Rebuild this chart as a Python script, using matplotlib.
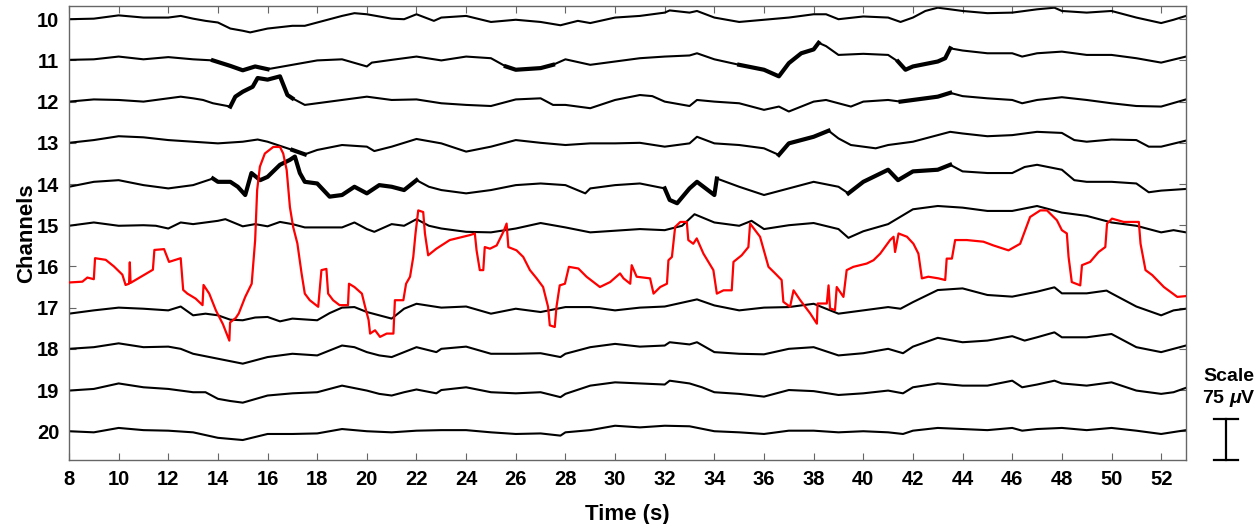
import numpy as np
import matplotlib
matplotlib.use("Agg")
import matplotlib.pyplot as plt

plt.rcParams['font.family'] = ['Liberation Sans', 'DejaVu Sans']
plt.rcParams['font.weight'] = 'bold'
plt.rcParams['mathtext.fontset'] = 'custom'
plt.rcParams['mathtext.it'] = 'Liberation Sans:italic:bold'

#Black EEG traces: (time s, deflection uV), positive = up on the plot
ch10 = [(8,0),(9,1),(10,7),(11,3),(12,3),(12.5,6),(13,1),(13.5,-3),(14,-6),(14.5,-17),(15,-21),(15.3,-24),
        (16,-17),(17,-12),(17.5,-12),(18,-6),(19,6),(19.5,11),(20,9),(21,1),(21.5,0),(22,9),(22.7,-3),(23,3),
        (24,6),(25,-5),(26,-1),(27,-5),(27.8,-11),(28.5,-3),(29,-7),(30,3),(31,6),(32,12),(32.2,16),(33,12),
        (33.3,15),(34,3),(35,-5),(36,-1),(37,3),(38,9),(38.5,9),(39,0),(40,5),(41,3),(41.5,-5),(42,3),(42.5,15),
        (43,21),(44,15),(45,11),(46,12),(47,18),(47.7,21),(48,15),(49,12),(50,15),(51,3),(52,-7),(52.5,-1),(53,6)]
ch11 = [(8,1),(9,2),(10,7),(11,2),(12,6),(13,2),(13.8,0),(14.5,-10),(15,-18),(15.5,-11),(16,-16),(17,-8),
        (18,0),(19,2),(20,-11),(20.2,-4),(21,1),(22,7),(23,0),(24,7),(25,4),(25.6,-11),(26,-17),(27,-14),
        (27.5,-8),(28,2),(29,-8),(30,-2),(31,4),(32,7),(33,9),(33.3,13),(34,2),(35,-8),(36,-17),(36.6,-29),
        (37,-5),(37.5,13),(38,20),(38.2,32),(38.5,26),(39,10),(40,12),(41,10),(41.4,-2),(41.7,-17),(42,-11),
        (43,-2),(43.3,4),(43.5,22),(44,18),(45,13),(46,13),(46.4,7),(47,13),(48,16),(49,10),(50,10),(51,4),
        (52,-4),(53,7)]
ch12 = [(8,0),(9,4),(10,3),(11,0),(12,6),(12.5,9),(13,6),(13.4,3),(13.8,-3),(14.5,-9),(14.7,9),(15,18),
        (15.4,27),(15.6,43),(16,40),(16.5,46),(16.8,12),(17,6),(17.5,-6),(18,-3),(19,3),(20,9),(21,3),(22,4),
        (23,-3),(24,-6),(25,-8),(26,4),(27,6),(27.5,-6),(28,-6),(29,-12),(30,3),(31,12),(31.5,10),(32,0),
        (33,-8),(33.3,3),(34,0),(35,-3),(36,-15),(36.6,-9),(37,-18),(38,0),(38.5,3),(39,-3),(39.5,-9),(40,0),
        (41,3),(41.5,0),(42,3),(43,9),(43.5,16),(44,10),(45,6),(46,3),(46.4,-3),(47,3),(48,8),(49,3),(50,-3),
        (51,-8),(52,-9),(53,4)]
ch13 = [(8,0),(9,5),(10,12),(11,10),(12,5),(13,2),(14,-1),(15,2),(15.6,6),(16,2),(17,-13),(17.5,-21),
        (18,-13),(19,-4),(20,-7),(20.3,-15),(21,-7),(22,7),(23,-1),(24,-16),(25,-7),(26,5),(27,0),(28,-4),
        (29,-1),(30,-1),(31,0),(32,-7),(33,-1),(33.3,11),(34,-1),(35,-4),(36,-10),(36.6,-22),(37,-1),(38,11),
        (38.6,22),(39,8),(39.5,-4),(40,-7),(40.5,-10),(41,-4),(42,2),(43,14),(43.5,20),(44,17),(45,12),(46,14),
        (46.5,17),(47,20),(48,18),(48.5,5),(49,2),(50,6),(51,5),(51.5,-7),(52,-7),(53,4)]
ch14 = [(8,-5),(9,4),(10,7),(11,-2),(12,-8),(13,-2),(13.8,10),(14,4),(14.5,4),(14.8,-5),(15.1,-20),
        (15.35,20),(15.7,7),(16,13),(16.5,35),(16.9,44),(17.1,50),(17.3,20),(17.5,4),(18,1),(18.5,-23),
        (19,-20),(19.5,-5),(20,-17),(20.5,-2),(21,-5),(21.5,-11),(22,7),(22.5,-5),(23,-11),(24,-17),(25,-11),
        (26,-2),(27,1),(28,-2),(28.8,-17),(29,-8),(30,-2),(31,1),(32,-8),(32.2,-29),(32.5,-35),(33,-8),
        (33.3,4),(34,-20),(34.1,10),(35,-5),(36,-20),(37,-8),(38,4),(39,-5),(39.4,-17),(40,4),(41,26),
        (41.4,7),(42,23),(43,26),(43.5,35),(44,23),(45,20),(46,20),(46.5,31),(47,35),(48,26),(48.5,7),(49,4),
        (50,4),(51,1),(51.5,-15),(52,-12),(53,-9)]
ch15 = [(8,-1),(9,5),(10,-1),(11,0),(11.5,-1),(12,-6),(12.5,5),(13,2),(14,8),(14.3,11),(15,-2),(15.5,2),
        (16,-2),(16.5,6),(17,2),(17.5,-4),(18,-4),(19,-4),(19.5,5),(20,-7),(20.3,-12),(21,2),(21.5,-1),(22,11),
        (22.5,-1),(23,-6),(24,-12),(25,-13),(26,-6),(27,4),(28,-4),(29,-13),(30,-10),(31,-7),(32,-9),(32.7,-1),
        (33.2,20),(34,5),(35,-1),(35.5,8),(36,-7),(37,0),(38,4),(39,-7),(39.4,-23),(40,-11),(41,2),(42,29),
        (43,35),(44,32),(45,26),(46,26),(47,35),(48,23),(49,17),(50,5),(51,-1),(52,-13),(52.5,-9),(53,-13)]
ch17 = [(8,-11),(9,-5),(10,0),(11,-2),(12,-5),(12.5,2),(13,-14),(13.5,-11),(14,-14),(14.5,-22),(15,-23),
        (15.5,-18),(16,-17),(16.5,-25),(17,-20),(18,-23),(18.5,-10),(19,0),(19.5,1),(20,-8),(20.5,-14),
        (21,-20),(21.5,-2),(22,7),(23,0),(24,2),(25,-11),(26,-2),(27,-8),(28,1),(29,1),(30,-5),(31,0),(32,2),
        (33.3,15),(34,4),(35,-5),(36,0),(37,1),(38,7),(39,-11),(40,-5),(41,1),(41.5,-2),(42,10),(43,32),
        (44,35),(45,23),(46,20),(47,29),(47.7,37),(48,26),(49,26),(49.8,31),(50,26),(51,2),(52,-14),
        (52.5,-5),(53,-2)]
ch18 = [(8,0),(9,3),(10,10),(11,3),(12,4),(12.5,0),(13,-9),(14,-18),(15,-27),(16,-15),(17,-9),(18,-12),
        (19,6),(19.5,3),(20,-6),(20.5,-12),(21,-15),(21.5,-6),(22,3),(22.8,-6),(23,0),(24,4),(25,-9),(26,-9),
        (27,-8),(27.8,-15),(28,-9),(29,3),(30,9),(31,4),(32,6),(32.2,12),(33,8),(33.3,12),(34,-6),(35,-9),
        (36,-10),(37,0),(38,3),(39,-12),(40,-8),(41,0),(41.6,-8),(42,4),(43,20),(44,12),(45,15),(46,23),
        (46.5,15),(47,21),(47.7,30),(48,21),(49,21),(50,27),(51,3),(52,-6),(52.5,0),(53,6)]
ch19 = [(8,-1),(9,2),(10,12),(11,5),(12,2),(13,-4),(13.5,-4),(14,-16),(14.5,-20),(15,-23),(16,-10),(17,-6),
        (18,-4),(19,8),(20,-1),(20.5,-7),(21,-10),(21.5,-4),(22,1),(22.8,-6),(23,0),(24,5),(25,-4),(26,-6),
        (27,-4),(27.8,-13),(28,-7),(29,8),(30,14),(31,12),(32,10),(32.2,17),(33,12),(33.5,5),(34,-4),(35,-7),
        (36,-12),(37,0),(38,-2),(39,-9),(40,-6),(41,-1),(41.6,-6),(42,5),(43,12),(44,8),(45,8),(46,17),
        (46.4,5),(47,10),(47.7,17),(48,12),(49,8),(50,14),(51,-1),(52,-7),(52.5,-4),(53,4)]
ch20 = [(8,0),(9,-2),(10,6),(11,2),(12,1),(13,-2),(14,-12),(15,-16),(16,-5),(17,-5),(18,-4),(19,4),(20,0),
        (21,-2),(22,1),(23,2),(24,2),(25,-2),(26,-5),(27,-4),(27.8,-8),(28,-2),(29,2),(30,10),(31,7),(32,10),
        (33,9),(34,0),(35,-2),(36,-5),(37,1),(38,1),(39,-2),(40,0),(41,-2),(41.6,-5),(42,1),(43,6),(44,4),
        (45,2),(46,6),(46.4,1),(47,4),(48,6),(49,2),(50,6),(51,1),(52,-5),(53,2)]

channels = [10, 11, 12, 13, 14, 15, 17, 18, 19, 20]
traces = [ch10, ch11, ch12, ch13, ch14, ch15, ch17, ch18, ch19, ch20]

#Stretches with high-frequency artefact (drawn thicker)
artefacts = {11: [(13.8, 16.5), (25.5, 27.5), (34.8, 38.2), (41.4, 43.5)],
             12: [(14.5, 17.0), (41.4, 43.5)],
             13: [(16.9, 17.6), (36.6, 38.6)],
             14: [(13.8, 22.0), (32.0, 34.1), (39.4, 43.5)]}

#Red overlay trace, channel-axis units
red_t = [8.0,8.54,8.74,9.0,9.05,9.48,9.81,10.15,10.28,10.42,10.45,10.48,10.82,11.38,11.44,11.83,12.03,12.5,
         12.6,12.77,13.1,13.38,13.42,13.65,13.92,14.2,14.46,14.49,14.72,14.84,15.1,15.36,15.5,15.58,15.69,
         15.89,16.23,16.5,16.63,16.77,16.9,17.03,17.2,17.37,17.5,17.7,18.04,18.17,18.37,18.44,18.64,18.9,
         19.24,19.28,19.5,19.8,19.93,20.07,20.13,20.33,20.53,20.8,21.07,21.13,21.47,21.58,21.74,21.87,21.96,
         22.07,22.27,22.34,22.47,22.8,23.34,23.88,24.15,24.35,24.42,24.55,24.69,24.75,24.96,25.23,25.5,
         25.63,25.7,26.03,26.3,26.57,26.84,27.1,27.3,27.37,27.57,27.64,27.77,27.98,28.14,28.52,28.85,29.39,
         29.8,30.2,30.34,30.61,30.67,30.87,31.41,31.55,31.82,32.09,32.15,32.29,32.42,32.63,32.89,32.95,
         33.15,33.29,33.56,33.96,34.1,34.37,34.7,34.77,35.1,35.37,35.44,35.84,36.18,36.45,36.71,36.78,
         37.05,37.19,37.46,37.86,38.13,38.16,38.53,38.6,38.66,38.86,38.93,39.2,39.33,39.6,40.14,40.41,
         40.68,41.08,41.22,41.28,41.42,41.76,42.02,42.22,42.36,42.62,43.03,43.3,43.36,43.57,43.7,44.17,
         44.84,45.24,45.85,46.32,46.72,47.13,47.4,47.8,48.0,48.2,48.27,48.4,48.74,48.81,49.14,49.48,49.75,
         49.82,50.02,50.49,51.1,51.17,51.37,51.64,52.11,52.65,53.0]
red_y = [16.39,16.37,16.27,16.31,15.8,15.84,16.0,16.2,16.45,16.42,15.9,16.4,16.28,16.08,15.6,15.58,15.89,15.8,
         16.57,16.66,16.78,16.94,16.45,16.66,17.07,17.4,17.8,17.36,17.25,17.14,16.74,16.42,15.36,14.15,13.58,
         13.26,13.1,13.1,13.26,13.66,14.56,15.04,15.44,16.17,16.66,16.82,16.98,16.09,16.06,16.66,16.82,16.94,
         16.94,16.42,16.5,16.66,16.98,17.3,17.63,17.55,17.71,17.63,17.63,16.82,16.82,16.42,16.25,15.77,15.2,
         14.64,14.68,15.2,15.73,15.57,15.36,15.28,15.24,15.2,15.61,16.09,16.09,15.53,15.57,15.49,15.16,
         14.96,15.53,15.61,15.77,16.09,16.29,16.5,16.98,17.43,17.47,16.98,16.46,16.42,16.01,16.05,16.25,16.5,
         16.38,16.17,16.29,16.42,15.97,16.25,16.29,16.66,16.5,16.42,15.85,15.77,15.04,14.92,14.92,15.36,
         15.45,15.32,15.69,16.09,16.66,16.58,16.58,15.89,15.73,15.53,14.96,15.28,16.01,16.17,16.33,16.86,
         16.98,16.58,16.82,17.14,17.39,16.9,16.9,16.46,17.02,17.06,16.5,16.74,16.09,16.01,15.93,15.85,
         15.69,15.36,15.28,15.65,15.2,15.28,15.45,15.69,16.29,16.25,16.29,16.33,15.81,15.81,15.36,15.36,
         15.4,15.49,15.61,15.45,14.8,14.64,14.64,14.88,15.12,15.2,15.77,16.38,16.46,15.97,15.89,15.65,15.53,
         14.96,14.84,14.92,14.92,15.45,16.09,16.21,16.5,16.74,16.72]

uv_per_unit = 75.0

fig = plt.figure(figsize=(12.59, 5.24), dpi=100)
ax = fig.add_axes([0.0548, 0.122, 0.8872, 0.8665])

for ch, tr in zip(channels, traces):
    t = np.array([p[0] for p in tr])
    y = ch - np.array([p[1] for p in tr]) / uv_per_unit
    ax.plot(t, y, color='black', lw=1.5, zorder=2)
    for a, b in artefacts.get(ch, []):
        m = (t >= a) & (t <= b)
        ax.plot(t[m], y[m], color='black', lw=3.0, zorder=2)

ax.plot(red_t, red_y, color='red', lw=1.6, zorder=3)

ax.set_xlim(8, 53)
ax.set_ylim(20.70, 9.68)
ax.set_xticks(np.arange(8, 53, 2))
ax.set_yticks(np.arange(10, 21, 1))
ax.tick_params(direction='in', top=True, right=True, labelsize=14.5, length=5, color='#666666', pad=7)
for s in ax.spines.values():
    s.set_color('#666666')
    s.set_linewidth(1.0)
ax.set_xlabel('Time (s)', fontsize=16, fontweight='bold', labelpad=11)
ax.set_ylabel('Channels', fontsize=16, fontweight='bold', labelpad=0)

#Scale bar 75 uV = one channel spacing
xb = 54.62
ax.plot([xb, xb], [19.71, 20.71], color='black', lw=1.6, clip_on=False)
ax.plot([xb - 0.48, xb + 0.48], [19.71, 19.71], color='black', lw=1.6, clip_on=False)
ax.plot([xb - 0.48, xb + 0.48], [20.71, 20.71], color='black', lw=1.6, clip_on=False)
ax.text(xb + 0.1, 18.67, 'Scale', ha='center', va='center', fontsize=14, fontweight='bold', clip_on=False)
ax.text(xb + 0.1, 19.2, r'75 $\mu$V', ha='center', va='center', fontsize=14, fontweight='bold', clip_on=False)

fig.savefig('out.png', dpi=100)
